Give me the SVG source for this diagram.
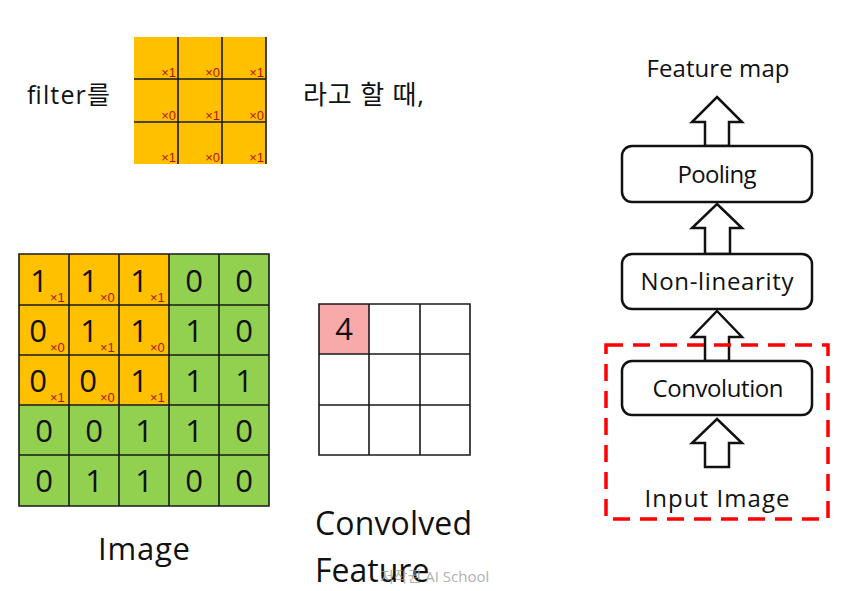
<svg xmlns="http://www.w3.org/2000/svg" width="858" height="591" viewBox="0 0 858 591">
<defs>
<style>
.t{font-family:"Open Sans","Noto Sans CJK KR",sans-serif;fill:#111}
.k{font-family:"Open Sans","Noto Sans CJK KR",sans-serif;fill:#111}
.grid{stroke:#1a1a1a;stroke-width:1.6;fill:none}
.or{fill:#FFC000}
.gr{fill:#92D050}
.num{font-family:"Open Sans",sans-serif;font-size:31px;fill:#111;text-anchor:middle}
.sub{font-family:"Liberation Sans",sans-serif;font-size:13px;fill:#B5121B}
.fsub{font-family:"Liberation Sans",sans-serif;font-size:13px;fill:#B5121B;text-anchor:end}
.box{fill:#fff;stroke:#111;stroke-width:2.5}
.arr{fill:#fff;stroke:#111;stroke-width:2.5;stroke-linejoin:miter}
.lbl{font-family:"Open Sans",sans-serif;font-size:24px;fill:#111;text-anchor:middle}
</style>
</defs>
<rect width="858" height="591" fill="#fff"/>

<g id="filter-caption">
<text class="k" x="27" y="104" font-size="25" textLength="83">filter를</text>
<text class="k" x="303" y="104" font-size="26" textLength="121">라고 할 때,</text>
</g>

<g id="filter">
<rect class="or" x="134" y="37" width="132" height="127"/>
<path class="grid" d="M178 37V164M222 37V164M266 37V164M134 79H266M134 122H266"/>
<text class="fsub" x="176" y="77">×1</text>
<text class="fsub" x="220" y="77">×0</text>
<text class="fsub" x="264" y="77">×1</text>
<text class="fsub" x="176" y="120">×0</text>
<text class="fsub" x="220" y="120">×1</text>
<text class="fsub" x="264" y="120">×0</text>
<text class="fsub" x="176" y="162">×1</text>
<text class="fsub" x="220" y="162">×0</text>
<text class="fsub" x="264" y="162">×1</text>
</g>

<g id="image">
<rect class="gr" x="19" y="254" width="250" height="252"/>
<rect class="or" x="19" y="254" width="150" height="151"/>
<path class="grid" d="M19 254H269V506H19Z M69 254V506M119 254V506M169 254V506M219 254V506 M19 305H269M19 355H269M19 405H269M19 455H269"/>
<text class="num" x="39" y="292">1</text><text class="sub" x="50" y="302">×1</text>
<text class="num" x="89" y="292">1</text><text class="sub" x="100" y="302">×0</text>
<text class="num" x="139" y="292">1</text><text class="sub" x="150" y="302">×1</text>
<text class="num" x="194" y="292">0</text>
<text class="num" x="244" y="292">0</text>
<text class="num" x="38" y="342">0</text><text class="sub" x="50" y="352">×0</text>
<text class="num" x="89" y="342">1</text><text class="sub" x="100" y="352">×1</text>
<text class="num" x="139" y="342">1</text><text class="sub" x="150" y="352">×0</text>
<text class="num" x="194" y="342">1</text>
<text class="num" x="244" y="342">0</text>
<text class="num" x="38" y="392">0</text><text class="sub" x="50" y="402">×1</text>
<text class="num" x="88" y="392">0</text><text class="sub" x="100" y="402">×0</text>
<text class="num" x="139" y="392">1</text><text class="sub" x="150" y="402">×1</text>
<text class="num" x="194" y="392">1</text>
<text class="num" x="244" y="392">1</text>
<text class="num" x="44" y="442">0</text>
<text class="num" x="94" y="442">0</text>
<text class="num" x="144" y="442">1</text>
<text class="num" x="194" y="442">1</text>
<text class="num" x="244" y="442">0</text>
<text class="num" x="44" y="492">0</text>
<text class="num" x="94" y="492">1</text>
<text class="num" x="144" y="492">1</text>
<text class="num" x="194" y="492">0</text>
<text class="num" x="244" y="492">0</text>
<text class="t" x="98" y="560" font-size="31" textLength="92">Image</text>
</g>

<g id="convolved">
<rect x="319" y="304" width="50" height="50" fill="#F8A9A9"/>
<path class="grid" d="M319 304H470V455H319Z M369 304V455M420 304V455 M319 354H470M319 405H470"/>
<text class="num" x="344" y="340" font-size="27">4</text>
<text class="t" x="315" y="535" font-size="32" textLength="157">Convolved</text>
<text class="t" x="315" y="582" font-size="32">Feature</text>
</g>

<text x="380" y="582" font-family="Open Sans,Noto Sans CJK KR,sans-serif" font-size="15" fill="#9a9a9a" fill-opacity="0.8">저작권 AI School</text>

<g id="connectors">
<polygon class="arr" points="717,97 742,122 729,122 729,146 705,146 705,122 692,122"/>
<polygon class="arr" points="717,204 742,228 730,228 730,254 705,254 705,228 692,228"/>
<polygon class="arr" points="717,311 742,337 729,337 729,361 705,361 705,337 692,337"/>
<polygon class="arr" points="717,419 742,443 729,443 729,467 705,467 705,443 692,443"/>
</g>

<g id="feature-map"><text class="lbl" x="718" y="77" textLength="143">Feature map</text></g>
<g id="pooling"><rect class="box" x="622" y="146" width="190" height="56" rx="10"/><text class="lbl" x="717" y="183" textLength="79">Pooling</text></g>
<g id="nonlinearity"><rect class="box" x="622" y="254" width="190" height="55" rx="10"/><text class="lbl" x="717" y="290" textLength="153">Non-linearity</text></g>
<g id="convolution"><rect class="box" x="622" y="361" width="190" height="54" rx="10"/><text class="lbl" x="718" y="397" textLength="131">Convolution</text></g>
<g id="input-image"><text class="lbl" x="717" y="507" textLength="145">Input Image</text></g>
<g id="highlight"><rect x="606" y="345" width="222" height="174" fill="none" stroke="#FF0000" stroke-width="3.5" stroke-dasharray="17,10"/></g>
</svg>
